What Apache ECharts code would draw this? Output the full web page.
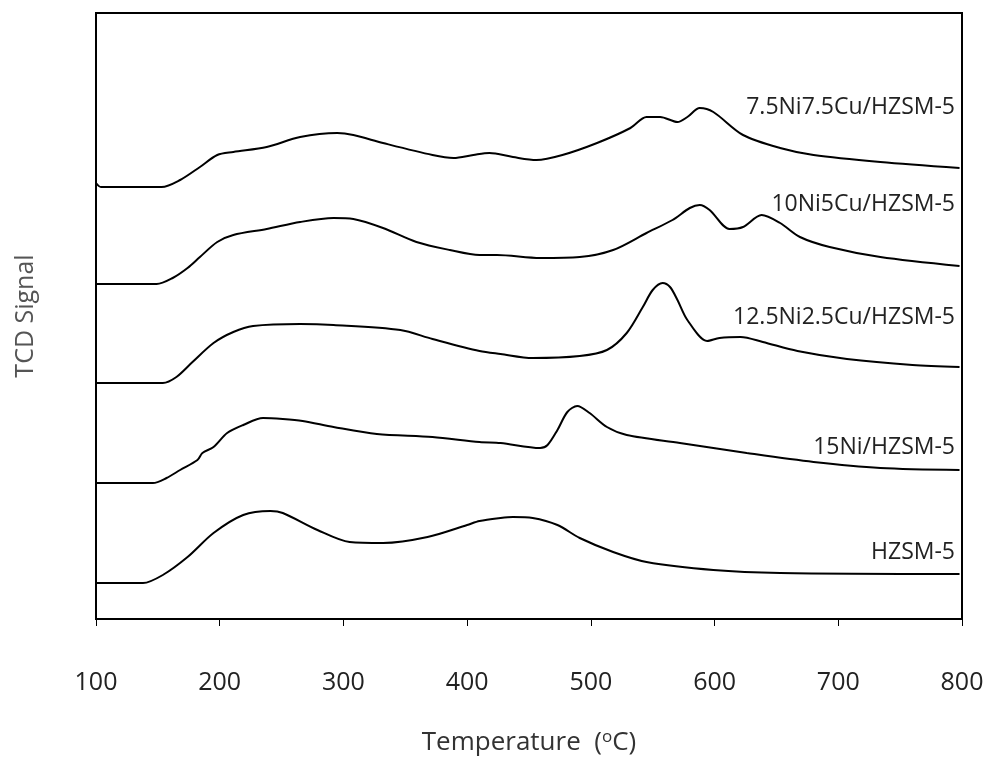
<!DOCTYPE html>
<html>
<head>
<meta charset="utf-8">
<script src="https://cdn.jsdelivr.net/npm/echarts@6/dist/echarts.min.js"></script>
<style>
  html, body { margin: 0; padding: 0; background: #fff; }
  #chart { width: 987px; height: 762px; }
</style>
</head>
<body>
<div id="chart"></div>
<script>
// sample names, top to bottom
var names = ['7.5Ni7.5Cu/HZSM-5', '10Ni5Cu/HZSM-5', '12.5Ni2.5Cu/HZSM-5', '15Ni/HZSM-5', 'HZSM-5'];
var xTicks = [100, 200, 300, 400, 500, 600, 700, 800];

// [temperature, stacked TCD signal (arbitrary units)]
var ni75cu75 = [[100,436],[104,432],[153,432],[168,439],[184,452],[198,464],[211,467],[238,472],[265,482],[295,486],[308,484],[332,476],[372,464],[389,461],[405,464],[418,466],[437,462],[456,459],[477,464],[505,476],[532,491],[545,502],[556,502],[570,497],[578,502],[588,511],[599,507],[623,484],[653,471],[680,464],[734,457],[798,451]];
var ni10cu5 = [[100,335],[149,335],[162,341],[174,351],[184,362],[198,377],[211,384],[238,390],[265,397],[292,401],[308,400],[332,391],[359,377],[386,369],[410,364],[424,364],[459,361],[491,362],[518,369],[545,386],[566,399],[580,411],[588,414],[596,409],[612,390],[623,392],[638,404],[653,396],[669,382],[693,372],[734,362],[798,353]];
var ni125cu25 = [[100,236],[154,236],[165,242],[178,257],[195,276],[211,287],[227,293],[265,295],[292,294],[346,289],[372,280],[410,268],[427,265],[453,261],[491,263],[513,269],[529,286],[542,312],[550,329],[558,336],[564,332],[570,319],[578,299],[594,278],[604,281],[621,282],[639,277],[667,268],[707,260],[760,254],[798,252]];
var ni15 = [[100,136],[146,136],[157,141],[168,149],[182,159],[186,166],[195,172],[206,186],[219,194],[235,201],[251,200],[267,198],[292,192],[327,185],[372,182],[410,177],[427,176],[459,171],[465,174],[473,189],[481,207],[489,213],[499,206],[513,192],[529,184],[572,176],[626,166],[680,157],[734,151],[798,149]];
var hzsm5 = [[100,36],[138,36],[154,44],[174,62],[195,86],[219,104],[241,108],[251,106],[279,89],[305,77],[332,76],[368,82],[400,94],[410,98],[427,101],[437,102],[453,101],[473,94],[491,81],[518,67],[545,57],[599,49],[653,46],[798,45]];

var curves = [ni75cu75, ni10cu5, ni125cu25, ni15, hzsm5];
var labelY = [107, 204, 317, 447, 552];

var chart = echarts.init(document.getElementById('chart'));

var series = curves.map(function (d, i) {
    return {
        name: names[i],
        type: 'line',
        data: d,
        smooth: 0.3,
        showSymbol: false,
        lineStyle: { color: '#000', width: 2 },
        silent: true
    };
});

var graphic = names.map(function (n, i) {
    return {
        type: 'text',
        right: 32,
        top: labelY[i] - 11,
        style: { text: n, font: '23px "Open Sans"', fill: '#222' }
    };
});

chart.setOption({
    animation: false,
    grid: { left: 96, right: 25, top: 13, bottom: 143, show: true, borderColor: '#000', borderWidth: 2 },
    xAxis: {
        type: 'value',
        min: 100,
        max: 800,
        interval: 100,
        name: 'Temperature  ({sup|o}C)',
        nameLocation: 'middle',
        nameGap: 110,
        nameTextStyle: {
            fontFamily: 'Open Sans', fontSize: 26, color: '#333',
            rich: { sup: { fontFamily: 'Open Sans', fontSize: 17, color: '#333', verticalAlign: 'top', padding: [0, 0, 10, 0] } }
        },
        axisLine: { lineStyle: { color: '#000', width: 2 } },
        axisTick: { inside: false, length: 7, lineStyle: { color: '#000', width: 1 } },
        axisLabel: { margin: 51, fontFamily: 'Open Sans', fontSize: 25, color: '#222',
            formatter: function (v) { return xTicks.indexOf(v) >= 0 ? String(v) : ''; } },
        splitLine: { show: false }
    },
    yAxis: {
        type: 'value',
        min: 0,
        max: 606,
        name: 'TCD Signal',
        nameLocation: 'middle',
        nameGap: 58,
        nameTextStyle: { fontFamily: 'Open Sans', fontSize: 25, color: '#555' },
        axisLine: { show: true, lineStyle: { color: '#000', width: 2 } },
        axisTick: { show: false },
        axisLabel: { show: false },
        splitLine: { show: false }
    },
    graphic: graphic,
    series: series
});
</script>
</body>
</html>
